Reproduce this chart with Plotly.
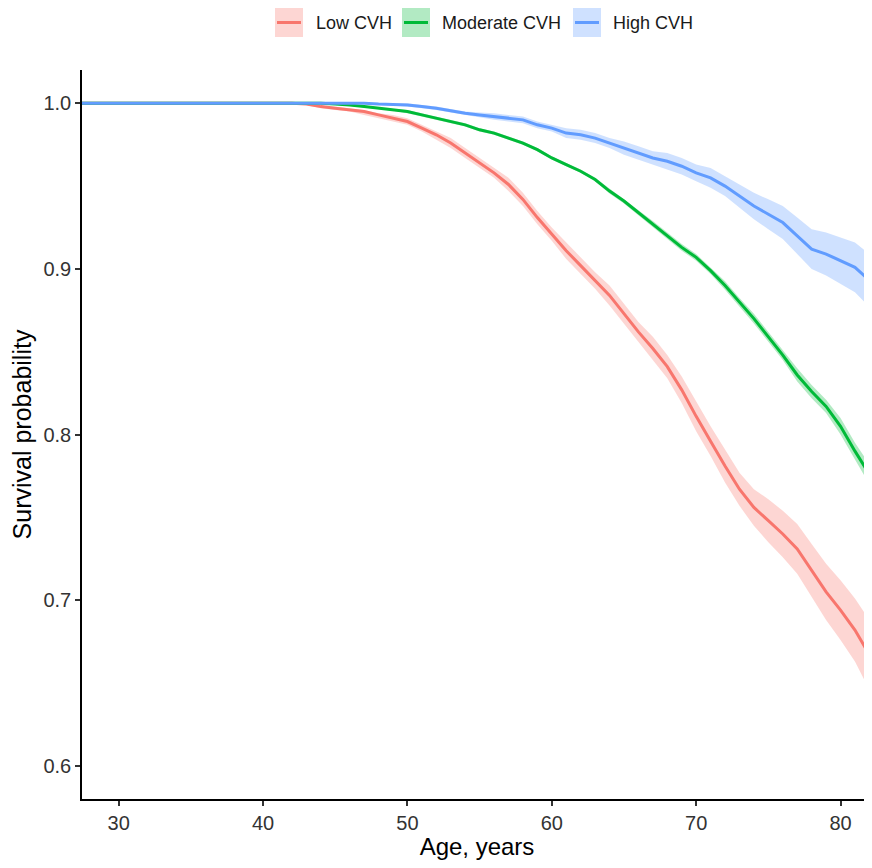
import plotly.graph_objects as go

# ---------------- data ----------------
ages = [27, 35, 40, 42, 43, 44, 45, 46, 47, 48, 49, 50, 51, 52, 53, 54, 55, 56, 57, 58,
        59, 60, 61, 62, 63, 64, 65, 66, 67, 68, 69, 70, 71, 72, 73, 74, 75, 76, 77, 78,
        79, 80, 81, 82, 82.4]

low_surv = [1, 1, 1, 1, 0.9995, 0.998, 0.997, 0.996, 0.995, 0.993, 0.991, 0.989, 0.985, 0.981,
            0.976, 0.970, 0.964, 0.958, 0.951, 0.942, 0.931, 0.921, 0.911, 0.902, 0.893, 0.884,
            0.873, 0.862, 0.852, 0.841, 0.827, 0.811, 0.796, 0.781, 0.767, 0.756, 0.748, 0.740,
            0.731, 0.718, 0.705, 0.694, 0.682, 0.667, 0.665]
low_lo = [1, 1, 1, 0.9998, 0.999, 0.997, 0.996, 0.995, 0.993, 0.991, 0.989, 0.987, 0.983, 0.978,
          0.973, 0.967, 0.961, 0.955, 0.947, 0.938, 0.927, 0.917, 0.906, 0.897, 0.888, 0.878,
          0.867, 0.856, 0.845, 0.834, 0.819, 0.802, 0.787, 0.771, 0.757, 0.745, 0.735, 0.726,
          0.716, 0.702, 0.688, 0.676, 0.663, 0.646, 0.643]
low_hi = [1, 1, 1, 1, 1, 0.999, 0.998, 0.997, 0.996, 0.994, 0.993, 0.991, 0.987, 0.983,
          0.979, 0.973, 0.967, 0.961, 0.955, 0.946, 0.935, 0.925, 0.916, 0.907, 0.898, 0.890,
          0.879, 0.868, 0.859, 0.848, 0.835, 0.820, 0.805, 0.791, 0.777, 0.767, 0.761, 0.754,
          0.746, 0.734, 0.722, 0.712, 0.701, 0.688, 0.687]

mod_surv = [1, 1, 1, 1, 1, 1, 0.9995, 0.999, 0.998, 0.997, 0.996, 0.995, 0.993, 0.991,
            0.989, 0.987, 0.984, 0.982, 0.979, 0.976, 0.972, 0.967, 0.963, 0.959, 0.954, 0.947,
            0.941, 0.934, 0.927, 0.920, 0.913, 0.907, 0.899, 0.890, 0.880, 0.870, 0.859, 0.848,
            0.836, 0.826, 0.817, 0.805, 0.790, 0.776, 0.772]
mod_lo = [1, 1, 1, 1, 1, 1, 0.999, 0.9985, 0.9975, 0.9965, 0.9955, 0.994, 0.992, 0.990,
          0.988, 0.986, 0.983, 0.981, 0.978, 0.975, 0.971, 0.966, 0.962, 0.958, 0.953, 0.9455,
          0.9395, 0.9325, 0.925, 0.918, 0.911, 0.905, 0.897, 0.8875, 0.8775, 0.867, 0.856, 0.845,
          0.832, 0.822, 0.813, 0.800, 0.785, 0.770, 0.765]
mod_hi = [1, 1, 1, 1, 1, 1, 1, 0.9995, 0.9985, 0.9975, 0.9965, 0.996, 0.994, 0.992,
          0.990, 0.988, 0.985, 0.983, 0.980, 0.977, 0.973, 0.968, 0.964, 0.960, 0.955, 0.9485,
          0.9425, 0.9355, 0.929, 0.922, 0.915, 0.909, 0.901, 0.8925, 0.8825, 0.873, 0.862, 0.851,
          0.840, 0.830, 0.821, 0.810, 0.795, 0.782, 0.779]

high_surv = [1, 1, 1, 1, 1, 1, 1, 1, 1, 0.9995, 0.9993, 0.999, 0.998, 0.997,
             0.9955, 0.994, 0.993, 0.992, 0.991, 0.990, 0.987, 0.985, 0.982, 0.981, 0.979, 0.976,
             0.973, 0.970, 0.967, 0.965, 0.962, 0.958, 0.955, 0.950, 0.944, 0.938, 0.933, 0.928,
             0.920, 0.912, 0.909, 0.905, 0.901, 0.893, 0.889]
high_lo = [1, 1, 1, 1, 1, 1, 1, 1, 1, 0.999, 0.9986, 0.998, 0.997, 0.996,
           0.9945, 0.993, 0.9915, 0.990, 0.989, 0.988, 0.985, 0.983, 0.979, 0.978, 0.976, 0.973,
           0.969, 0.966, 0.963, 0.960, 0.957, 0.953, 0.949, 0.944, 0.937, 0.930, 0.924, 0.918,
           0.909, 0.900, 0.896, 0.891, 0.886, 0.877, 0.873]
high_hi = [1, 1, 1, 1, 1, 1, 1, 1, 1, 1, 1, 1, 0.999, 0.998,
           0.9965, 0.995, 0.9945, 0.994, 0.993, 0.992, 0.989, 0.987, 0.985, 0.984, 0.982, 0.979,
           0.977, 0.974, 0.971, 0.970, 0.967, 0.963, 0.961, 0.956, 0.951, 0.946, 0.942, 0.938,
           0.931, 0.924, 0.922, 0.919, 0.916, 0.909, 0.905]

series_names = ["Low CVH", "Moderate CVH", "High CVH"]
line_colors = ["#F8766D", "#00BA38", "#619CFF"]
band_colors = ["rgba(248,118,109,0.3)", "rgba(0,186,56,0.3)", "rgba(97,156,255,0.3)"]
x_ticks = [30, 40, 50, 60, 70, 80]
y_ticks = [0.6, 0.7, 0.8, 0.9, 1.0]
y_tick_text = ["0.6", "0.7", "0.8", "0.9", "1.0"]

surv = [low_surv, mod_surv, high_surv]
lows = [low_lo, mod_lo, high_lo]
highs = [low_hi, mod_hi, high_hi]

# ---------------- figure ----------------
# the page body has an 8px margin, so the figure is drawn 8px in from the window corner
OFF = 8
W, H = 872 - OFF, 868 - 2 * OFF
L, R, T, B = 74, 0, 62, 61
FONT = "Arial, Liberation Sans, sans-serif"

fig = go.Figure()
for i in range(3):
    fig.add_trace(go.Scatter(x=ages, y=highs[i], mode="lines", line=dict(width=0),
                             hoverinfo="skip", showlegend=False))
    fig.add_trace(go.Scatter(x=ages, y=lows[i], mode="lines", line=dict(width=0),
                             fill="tonexty", fillcolor=band_colors[i],
                             hoverinfo="skip", showlegend=False))
for i in range(3):
    fig.add_trace(go.Scatter(x=ages, y=surv[i], mode="lines", name=series_names[i],
                             line=dict(color=line_colors[i], width=3), showlegend=False))

# custom legend (ggplot-style square keys); positions given in window pixels
def px_x(p):
    return (p - OFF - L) / (W - L - R)

def px_y(p):
    return (H - B - (p - OFF)) / (H - B - T)

key_left = [275, 402, 573]
text_left = [314, 440, 611]
shapes = []
annotations = []
for i in range(3):
    shapes.append(dict(type="rect", xref="paper", yref="paper",
                       x0=px_x(key_left[i]), x1=px_x(key_left[i] + 28),
                       y0=px_y(37), y1=px_y(8),
                       fillcolor=band_colors[i], line=dict(width=0)))
    shapes.append(dict(type="line", xref="paper", yref="paper",
                       x0=px_x(key_left[i] + 2), x1=px_x(key_left[i] + 26),
                       y0=px_y(22.5), y1=px_y(22.5),
                       line=dict(color=line_colors[i], width=3)))
    annotations.append(dict(xref="paper", yref="paper", x=px_x(text_left[i]), y=px_y(23),
                            xanchor="left", yanchor="middle", showarrow=False,
                            text=series_names[i],
                            font=dict(family=FONT, size=18, color="#1a1a1a")))

fig.update_layout(
    width=W, height=H,
    margin=dict(l=L, r=R, t=T, b=B, pad=0, autoexpand=False),
    plot_bgcolor="white", paper_bgcolor="white",
    showlegend=False,
    shapes=shapes, annotations=annotations,
    font=dict(family=FONT, color="#1a1a1a"),
)
fig.update_xaxes(
    range=[27.46, 82.18], tickvals=x_ticks, showgrid=False, zeroline=False, automargin=False,
    showline=True, linecolor="black", linewidth=1.5,
    ticks="outside", ticklen=5, tickwidth=1.5, tickcolor="#333333",
    tickfont=dict(family=FONT, size=20, color="#333333"),
    title=dict(text="Age, years", font=dict(family=FONT, size=24, color="black"), standoff=8),
)
fig.update_yaxes(
    range=[0.580, 1.0201], tickvals=y_ticks, ticktext=y_tick_text, showgrid=False, zeroline=False,
    automargin=False,
    showline=True, linecolor="black", linewidth=1.5,
    ticks="outside", ticklen=5, tickwidth=1.5, tickcolor="#333333",
    tickfont=dict(family=FONT, size=20, color="#333333"),
    title=dict(text="Survival probability", font=dict(family=FONT, size=25, color="black"), standoff=8),
)

fig.write_html("out.html")
